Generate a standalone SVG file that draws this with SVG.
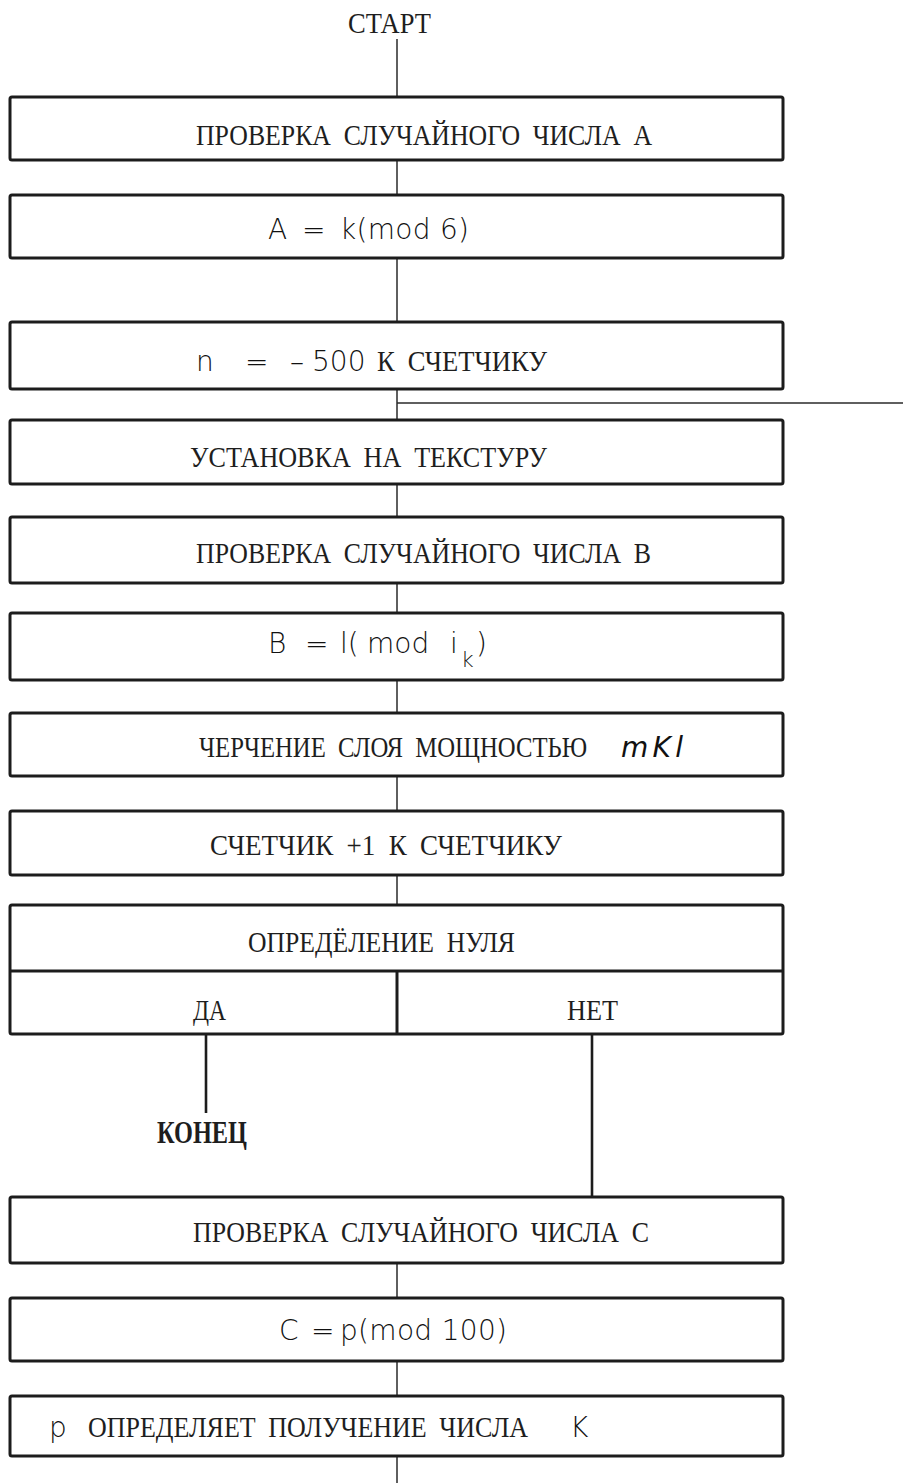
<svg xmlns="http://www.w3.org/2000/svg" width="903" height="1483" viewBox="0 0 903 1483">
<style>
.box{fill:none;stroke:#1c1c1c;stroke-width:3}
.div{stroke:#1c1c1c;stroke-width:3;fill:none}
.con{stroke:#2a2a2a;stroke-width:1.5;fill:none}
.conb{stroke:#1c1c1c;stroke-width:2.6;fill:none}
.t{font-family:"Liberation Serif","DejaVu Serif",serif;font-size:29px;fill:#1e1e1e;word-spacing:7px}
.h{font-family:"DejaVu Sans","Liberation Sans",sans-serif;font-size:28px;fill:#111;font-weight:300;word-spacing:0}
.hi{font-family:"DejaVu Sans","Liberation Sans",sans-serif;font-size:28px;fill:#111;font-style:italic;font-weight:300;word-spacing:0}
.end{font-family:"Liberation Serif","DejaVu Serif",serif;font-size:32px;font-weight:bold;fill:#1e1e1e}
</style>
<rect width="903" height="1483" fill="#ffffff"/>
<g id="connectors">
<line class="con" x1="397" y1="39" x2="397" y2="97"/>
<line class="con" x1="397" y1="160" x2="397" y2="195"/>
<line class="con" x1="397" y1="258" x2="397" y2="322"/>
<line class="con" x1="397" y1="389" x2="397" y2="420"/>
<line class="con" x1="397" y1="403" x2="903" y2="403"/>
<line class="con" x1="397" y1="484" x2="397" y2="517"/>
<line class="con" x1="397" y1="583" x2="397" y2="613"/>
<line class="con" x1="397" y1="680" x2="397" y2="713"/>
<line class="con" x1="397" y1="776" x2="397" y2="811"/>
<line class="con" x1="397" y1="875" x2="397" y2="905"/>
<line class="conb" x1="206" y1="1034" x2="206" y2="1113"/>
<line class="conb" x1="592" y1="1034" x2="592" y2="1197"/>
<line class="con" x1="397" y1="1263" x2="397" y2="1298"/>
<line class="con" x1="397" y1="1361" x2="397" y2="1396"/>
<line class="con" x1="397" y1="1456" x2="397" y2="1483"/>
</g>
<g id="start">
<text class="t" x="348" y="33" textLength="83" lengthAdjust="spacingAndGlyphs">СТАРТ</text>
</g>
<g id="n1">
<rect class="box" x="10" y="97" width="773" height="63" rx="2"/>
<text class="t" x="196" y="145" textLength="456" lengthAdjust="spacingAndGlyphs">ПРОВЕРКА СЛУЧАЙНОГО ЧИСЛА А</text>
</g>
<g id="n2">
<rect class="box" x="10" y="195" width="773" height="63" rx="2"/>
<text class="h" y="239"><tspan x="268">A</tspan><tspan x="302">=</tspan><tspan x="340" textLength="129">k(mod 6)</tspan></text>
</g>
<g id="n3">
<rect class="box" x="10" y="322" width="773" height="67" rx="2"/>
<text y="371"><tspan class="h" font-size="26" x="196">n</tspan><tspan class="h" font-size="26" x="245">=</tspan><tspan class="h" font-size="26" x="290">–</tspan><tspan class="h" font-size="26" x="312">500</tspan><tspan class="t" x="377" textLength="170" lengthAdjust="spacingAndGlyphs">К СЧЕТЧИКУ</tspan></text>
</g>
<g id="n4">
<rect class="box" x="10" y="420" width="773" height="64" rx="2"/>
<text class="t" x="190" y="467" textLength="357" lengthAdjust="spacingAndGlyphs">УСТАНОВКА НА ТЕКСТУРУ</text>
</g>
<g id="n5">
<rect class="box" x="10" y="517" width="773" height="66" rx="2"/>
<text class="t" x="196" y="563" textLength="455" lengthAdjust="spacingAndGlyphs">ПРОВЕРКА СЛУЧАЙНОГО ЧИСЛА В</text>
</g>
<g id="n6">
<rect class="box" x="10" y="613" width="773" height="67" rx="2"/>
<text class="h" y="653"><tspan x="268">B</tspan><tspan x="305">=</tspan><tspan x="340">l(</tspan><tspan x="367">mod</tspan><tspan x="450">i</tspan><tspan x="461" y="667" font-size="22">k</tspan><tspan x="476" y="653">)</tspan></text>
</g>
<g id="n7">
<rect class="box" x="10" y="713" width="773" height="63" rx="2"/>
<text class="t" transform="translate(199 757) scale(0.84 1)" x="0" y="0" textLength="462" lengthAdjust="spacingAndGlyphs">ЧЕРЧЕНИЕ СЛОЯ МОЩНОСТЬЮ</text>
<text class="hi" x="621" y="757" textLength="62">mKl</text>
</g>
<g id="n8">
<rect class="box" x="10" y="811" width="773" height="64" rx="2"/>
<text class="t" x="210" y="855" textLength="352" lengthAdjust="spacingAndGlyphs">СЧЕТЧИК +1 К СЧЕТЧИКУ</text>
</g>
<g id="n9">
<rect class="box" x="10" y="905" width="773" height="129" rx="2"/>
<line class="div" x1="10" y1="971" x2="783" y2="971"/>
<line class="div" x1="397" y1="971" x2="397" y2="1034"/>
<text class="t" x="248" y="952" textLength="267" lengthAdjust="spacingAndGlyphs">ОПРЕДЁЛЕНИЕ НУЛЯ</text>
<text class="t" x="193" y="1020" textLength="33" lengthAdjust="spacingAndGlyphs">ДА</text>
<text class="t" x="567" y="1020" textLength="51" lengthAdjust="spacingAndGlyphs">НЕТ</text>
</g>
<g id="end">
<text class="end" x="157" y="1143" textLength="90" lengthAdjust="spacingAndGlyphs">КОНЕЦ</text>
</g>
<g id="n10">
<rect class="box" x="10" y="1197" width="773" height="66" rx="2"/>
<text class="t" x="193" y="1242" textLength="456" lengthAdjust="spacingAndGlyphs">ПРОВЕРКА СЛУЧАЙНОГО ЧИСЛА С</text>
</g>
<g id="n11">
<rect class="box" x="10" y="1298" width="773" height="63" rx="2"/>
<text class="h" y="1340"><tspan x="279">C</tspan><tspan x="311">=</tspan><tspan x="340" textLength="167">p(mod 100)</tspan></text>
</g>
<g id="n12">
<rect class="box" x="10" y="1396" width="773" height="60" rx="2"/>
<text class="h" x="49" y="1437" font-size="30">p</text>
<text class="t" transform="translate(88 1437) scale(0.88 1)" x="0" y="0" textLength="500" lengthAdjust="spacingAndGlyphs">ОПРЕДЕЛЯЕТ ПОЛУЧЕНИЕ ЧИСЛА</text>
<text class="h" x="570" y="1437">K</text>
</g>
</svg>
